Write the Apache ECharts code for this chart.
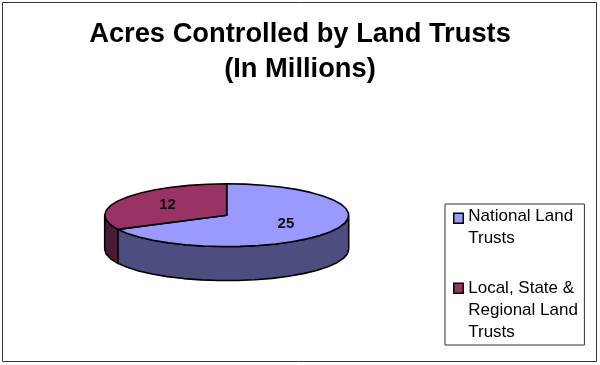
<!DOCTYPE html>
<html><head><meta charset="utf-8">
<style>html,body{margin:0;padding:0;background:#fff}#c{width:600px;height:365px}</style>
<script src="https://cdn.jsdelivr.net/npm/echarts@6/dist/echarts.min.js"></script>
</head><body><div id="c"></div>
<script>
const categories = ['National Land\nTrusts', 'Local, State &\nRegional Land\nTrusts'];
const values = [25, 12];
const topColors = ['#9999ff', '#993366'];
const sideColors = ['#4d4d80', '#4d1a33'];
const titleText = 'Acres Controlled by Land Trusts\n(In Millions)';

const cx = 226.7, cy = 215.2, rx = 122, ry = 31.4, depth = 34;
const total = values.reduce((a, b) => a + b, 0);
const pt = (deg, dy) => {
  const r = deg * Math.PI / 180;
  return [cx + rx * Math.sin(r), cy - ry * Math.cos(r) + (dy || 0)];
};
const arc = (a, b, dy) => {
  const out = [];
  const n = Math.max(2, Math.ceil((b - a) / 9));
  for (let i = 0; i <= n; i++) out.push(pt(a + (b - a) * i / n, dy));
  return out;
};
const line = { stroke: '#000', lineWidth: 1.6, lineJoin: 'round' };

function renderSlice(params, api) {
  const i = params.seriesIndex;
  const before = values.slice(0, i).reduce((a, b) => a + b, 0);
  const a0 = before / total * 360;
  const a1 = (before + api.value(0)) / total * 360;
  const children = [];
  const s0 = Math.max(a0, 90), s1 = Math.min(a1, 270);
  if (s1 > s0) {
    const wall = arc(s0, s1, 0).concat(arc(s0, s1, depth).reverse());
    children.push({ type: 'polygon', shape: { points: wall },
      style: Object.assign({ fill: sideColors[i] }, line) });
  }
  const face = [[cx, cy]].concat(arc(a0, a1, 0));
  children.push({ type: 'polygon', shape: { points: face },
    style: Object.assign({ fill: topColors[i] }, line) });
  const mid = (a0 + a1) / 2 * Math.PI / 180;
  children.push({ type: 'text', z2: 10, style: {
    x: cx + rx * 0.57 * Math.sin(mid),
    y: cy - 1 - ry * 0.56 * Math.cos(mid),
    text: String(api.value(0)),
    fill: '#111', font: 'bold 15px "Liberation Sans", Arial, sans-serif',
    align: 'center', verticalAlign: 'middle' } });
  return { type: 'group', children };
}

// Legend swatch sits beside the first line of each wrapped name; the zero-length
// sub-path stretches the icon box to the legend's full item height.
const icon = yTop => `path://M0,${yTop}h10v10h-10z M0,0h0 M0,66h0`;
const legendIcons = [icon(7.5), icon(6)];

const chart = echarts.init(document.getElementById('c'), null, { renderer: 'canvas' });
chart.setOption({
  animation: false,
  backgroundColor: '#fff',
  title: {
    text: titleText, left: 295, top: 12, textAlign: 'center',
    textStyle: { fontFamily: '"Liberation Sans", Arial, sans-serif', fontSize: 27.3, fontWeight: 'bold', color: '#000', lineHeight: 35 }
  },
  legend: {
    orient: 'vertical', left: 445, top: 204,
    padding: [1, 6.5, 1, 8], itemGap: 4, itemWidth: 9.5, itemHeight: 66,
    symbolKeepAspect: false, selectedMode: false,
    backgroundColor: '#fff', borderColor: '#333', borderWidth: 1,
    itemStyle: { borderColor: '#000', borderWidth: 1.5 },
    textStyle: { fontFamily: '"Liberation Sans", Arial, sans-serif', fontSize: 17, color: '#000', lineHeight: 22 },
    // every entry is laid out as three lines, so first lines sit at the same offset
    formatter: name => name.split('\n').length < 3 ? name + '\n ' : name,
    data: categories.map((name, i) => ({ name, icon: legendIcons[i] }))
  },
  graphic: [{ type: 'rect', z: -1, silent: true, shape: { x: 2.5, y: 2.5, width: 594, height: 359 },
    style: { fill: 'none', stroke: '#333', lineWidth: 1 } }],
  series: categories.map((name, i) => ({
    type: 'custom', name, coordinateSystem: 'none', renderItem: renderSlice,
    itemStyle: { color: topColors[i] }, silent: true,
    data: [[values[i]]]
  }))
});
</script></body></html>
